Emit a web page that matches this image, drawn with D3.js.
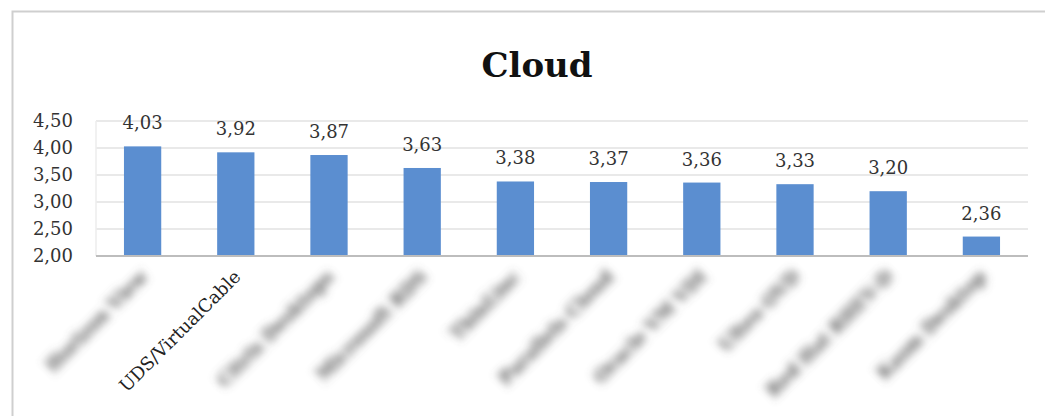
<html>
<head>
<meta charset="UTF-8">
<title>Cloud</title>
<style>
    body { margin: 0; background: #fff; }
    text { font-family: "DejaVu Serif", serif; }
</style>
</head>
<body>
<script src="https://d3js.org/d3.v7.min.js"></script>
<div id="svg_chart"></div>
<script>
    // chart data
    var categories = ["Horizon View", "UDS/VirtualCable", "Citrix Desktops", "Microsoft RDS", "ThinLinc",
                      "Parallels Cloud", "Oracle VM VDI", "Ulteo OVD", "Red Hat RHEV-D", "Kasm Desktop"];
    var values = [4.03, 3.92, 3.87, 3.63, 3.38, 3.37, 3.36, 3.33, 3.20, 2.36];
    var yTicks = [2.00, 2.50, 3.00, 3.50, 4.00, 4.50];
    // only this label is readable in the source, the others are blurred
    var sharpLabel = "UDS/VirtualCable";

    var fmt = d => d.toFixed(2).replace(".", ",");

    var margin = {top: 121, left: 96},
        width = 932,
        height = 135;

    var svg = d3.select("#svg_chart")
        .append("svg")
        .attr("width", 1045)
        .attr("height", 416);

    // blur filter for the hidden category names
    svg.append("defs").append("filter")
        .attr("id", "blur")
        .attr("x", "-20%").attr("y", "-60%")
        .attr("width", "140%").attr("height", "220%")
        .append("feGaussianBlur")
        .attr("stdDeviation", 4.5);

    // outer frame
    svg.append("rect")
        .attr("x", 12.5).attr("y", 11.5)
        .attr("width", 1100).attr("height", 500)
        .attr("fill", "none")
        .attr("stroke", "#cfcfcf")
        .attr("stroke-width", 2);

    // title
    svg.append("text")
        .attr("x", 537).attr("y", 77)
        .attr("text-anchor", "middle")
        .style("font-size", "34px")
        .style("font-weight", "bold")
        .attr("fill", "#111")
        .text("Cloud");

    var g = svg.append("g")
        .attr("transform", "translate(" + margin.left + "," + margin.top + ")");

    var xScale = d3.scaleBand()
        .domain(categories)
        .range([0, width])
        .paddingInner(0.6)
        .paddingOuter(0.3);

    var yScale = d3.scaleLinear()
        .domain([2, 4.5])
        .range([height, 0]);

    // gridlines
    g.append("g")
        .selectAll("line")
        .data(yTicks.slice(1))
        .join("line")
        .attr("x1", 0).attr("x2", width)
        .attr("y1", d => yScale(d)).attr("y2", d => yScale(d))
        .attr("stroke", "#e2e2e2")
        .attr("stroke-width", 1.5);

    g.append("line")
        .attr("x1", 0).attr("x2", 0)
        .attr("y1", 0).attr("y2", height)
        .attr("stroke", "#ececec")
        .attr("stroke-width", 1.5);

    // y axis
    var yAxis = g.append("g")
        .call(d3.axisLeft(yScale).tickValues(yTicks).tickFormat(fmt).tickSize(0).tickPadding(23));
    yAxis.select(".domain").remove();
    yAxis.selectAll("text")
        .style("font-size", "18px")
        .attr("fill", "#333");

    // bars
    g.selectAll("rect.bar")
        .data(values)
        .join("rect")
        .attr("class", "bar")
        .attr("x", (d, i) => xScale(categories[i]))
        .attr("y", d => yScale(d))
        .attr("width", xScale.bandwidth())
        .attr("height", d => height - yScale(d))
        .attr("fill", "#5b8ed0");

    // baseline
    g.append("line")
        .attr("x1", 0).attr("x2", width)
        .attr("y1", height).attr("y2", height)
        .attr("stroke", "#bdbdbd")
        .attr("stroke-width", 2);

    // value labels
    g.selectAll("text.val")
        .data(values)
        .join("text")
        .attr("class", "val")
        .attr("x", (d, i) => xScale(categories[i]) + xScale.bandwidth() / 2)
        .attr("y", d => yScale(d) - 17)
        .attr("text-anchor", "middle")
        .style("font-size", "18px")
        .attr("fill", "#333")
        .text(fmt);

    // category labels, rotated
    g.selectAll("text.cat")
        .data(categories)
        .join("text")
        .attr("class", "cat")
        .attr("transform", d => "translate(" + (xScale(d) + xScale.bandwidth() / 2 + 6) + "," + (height + 22) + ") rotate(-45)")
        .attr("text-anchor", "end")
        .style("font-size", "18px")
        .style("font-weight", d => d == sharpLabel ? "normal" : "bold")
        .attr("fill", d => d == sharpLabel ? "#222" : "#555")
        .attr("filter", d => d == sharpLabel ? null : "url(#blur)")
        .text(d => d);
</script>
</body>
</html>
